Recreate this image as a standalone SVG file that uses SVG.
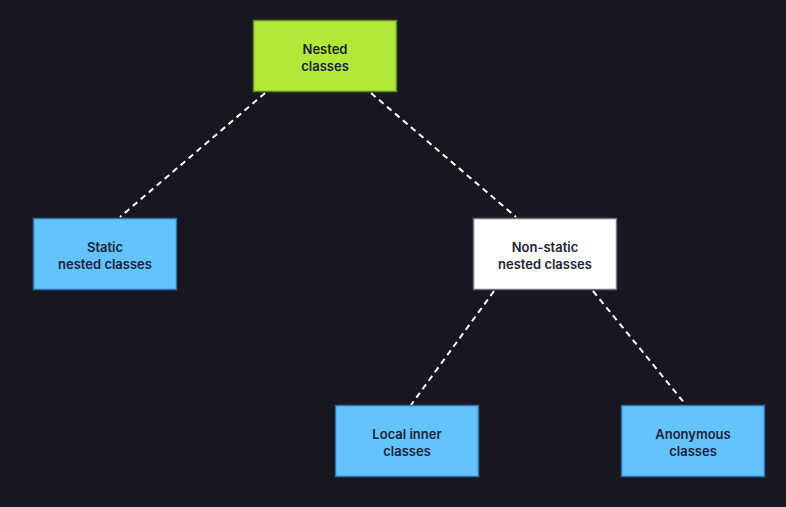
<svg xmlns="http://www.w3.org/2000/svg" width="786" height="507" viewBox="0 0 786 507">
<style>
.bg{fill:#18171f}
.n rect{stroke-width:1.5}
.g rect{fill:#b2e83a;stroke:#5e8a25}
.b rect{fill:#64c3ff;stroke:#2f6fa8}
.w rect{fill:#ffffff;stroke:#6b7288}
text{font-family:Inter,"Noto Sans","Liberation Sans",sans-serif;font-size:13px;font-weight:600;fill:#1b1f3a;text-anchor:middle}
.c line{stroke:#ffffff;stroke-width:2;stroke-dasharray:6 4.5}
</style>
<rect class="bg" x="0" y="0" width="786" height="507"/>
<g class="c" id="connectors">
<line x1="265" y1="93" x2="120" y2="217"/>
<line x1="371" y1="93" x2="516" y2="217"/>
<line x1="494" y1="291" x2="411" y2="405"/>
<line x1="593" y1="291" x2="686" y2="405"/>
</g>
<g id="nested" class="n g">
<rect x="253.5" y="20.5" width="143" height="71"/>
<text x="325" y="54">Nested</text>
<text x="325" y="71">classes</text>
</g>
<g id="static" class="n b">
<rect x="33.5" y="218.5" width="143" height="71"/>
<text x="105" y="252">Static</text>
<text x="105" y="269">nested classes</text>
</g>
<g id="nonstatic" class="n w">
<rect x="473.5" y="218.5" width="143" height="71"/>
<text x="545" y="252">Non-static</text>
<text x="545" y="269">nested classes</text>
</g>
<g id="local" class="n b">
<rect x="335.5" y="405.5" width="143" height="71"/>
<text x="407" y="439">Local inner</text>
<text x="407" y="456">classes</text>
</g>
<g id="anonymous" class="n b">
<rect x="621.5" y="405.5" width="143" height="71"/>
<text x="693" y="439">Anonymous</text>
<text x="693" y="456">classes</text>
</g>
</svg>
